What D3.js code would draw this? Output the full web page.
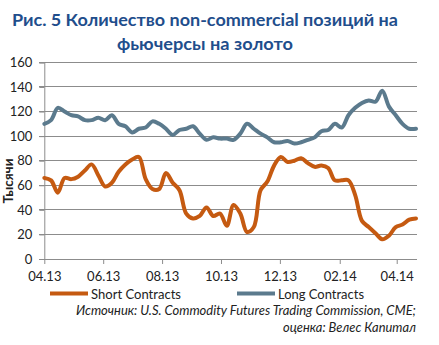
<!DOCTYPE html>
<html><head><meta charset="utf-8">
<script src="https://cdn.jsdelivr.net/npm/d3@7"></script>
<style>
html,body{margin:0;padding:0;background:#fff;}
svg{display:block;font-family:Lato,"Open Sans",sans-serif;}
</style></head>
<body>
<svg id="chart" width="439" height="345"></svg>
<script>
// ---- data (weekly, starting 2013-04-01) ----
const startDate = "2013-04-01";
const shortContracts = [66,64,54,66,65,67,72,77,68,59,62,71,77,81,83,65,57,57,70,62,56,37,33,35,42,35,37,27,44,37,22,26,56,63,76,83,79,80,82,78,75,76,74,64,64,64,52,31,26,21,16,19,26,28,32,33];
const longContracts  = [110,113,123,120,117,116,113,113,115,113,117,110,108,103,106,107,112,110,106,101,105,106,108,102,97,99,98,98,97,102,110,106,102,99,95,95,96,94,95,97,99,104,105,110,107,117,123,127,129,128,137,124,117,110,106,106];
const xTickLabels = ["04.13","06.13","08.13","10.13","12.13","02.14","04.14"];
const xTickDates  = ["2013-04-01","2013-06-01","2013-08-01","2013-10-01","2013-12-01","2014-02-01","2014-04-01"];
const yTicks = [0,20,40,60,80,100,120,140,160];
const seriesNames = ["Short Contracts","Long Contracts"];
const titleLines = ["Рис. 5 Количество non-commercial позиций на","фьючерсы на золото"];
const yLabel = "Тысячи";
const sourceLines = ["Источник: U.S. Commodity Futures Trading Commission, CME;","оценка: Велес Капитал"];

(function(){
const parse = d3.utcParse("%Y-%m-%d");
const t0 = parse(startDate);
const dates = shortContracts.map((_, i) => d3.utcDay.offset(t0, 7 * i));

const svg = d3.select("#chart");
const pL = 44.3, pR = 416.5, pT = 62.4, pB = 259;
const colors = ["#C55A11", "#5B7A8D"];

const x = d3.scaleUtc().domain([t0, dates[dates.length - 1]]).range([pL, pL + (dates[dates.length-1]-t0)/864e5*0.9655]);
const y = d3.scaleLinear().domain([0, 160]).range([pB, pT]);

// title
const titleW = [386, 176];
svg.append("g").selectAll("text").data(titleLines).join("text")
  .attr("x", (d, i) => 205 - titleW[i] / 2).attr("y", (d, i) => 26 + i * 24)
  .attr("textLength", (d, i) => titleW[i]).attr("lengthAdjust", "spacingAndGlyphs")
  .attr("font-size", 17.5).attr("font-weight", "bold").attr("fill", "#1F4E8C")
  .text(d => d);

// grid
svg.append("g").selectAll("line").data(yTicks).join("line")
  .attr("x1", pL - 5).attr("x2", pR).attr("y1", d => y(d)).attr("y2", d => y(d))
  .attr("stroke", "#8C8C8C").attr("stroke-width", 1).attr("shape-rendering", "crispEdges");

// y axis
const yAxis = svg.append("g").attr("transform", `translate(${pL},0)`)
  .call(d3.axisLeft(y).tickValues(yTicks).tickSize(5).tickPadding(7));
yAxis.select(".domain").attr("stroke", "#8C8C8C");
yAxis.selectAll(".tick line").attr("stroke", "#8C8C8C");
yAxis.selectAll("text").attr("font-size", 13).attr("font-family", "Lato").attr("fill", "#222");

// x axis
const xAxis = svg.append("g").attr("transform", `translate(0,${pB})`)
  .call(d3.axisBottom(x).tickValues(xTickDates.map(parse)).tickFormat((d, i) => xTickLabels[i]).tickSize(5).tickPadding(8));
xAxis.select(".domain").attr("stroke", "#8C8C8C").attr("d", `M${pL},0.5H${pR}`);
xAxis.selectAll(".tick line").attr("stroke", "#8C8C8C");
xAxis.selectAll("text").attr("font-size", 13).attr("font-family", "Lato").attr("fill", "#222");

// y label
svg.append("text").attr("transform", "translate(13,181) rotate(-90)")
  .attr("text-anchor", "middle").attr("font-size", 13.5).attr("font-weight", "bold").attr("fill", "#222")
  .text(yLabel);

// lines
const line = d3.line().x((d, i) => x(dates[i])).y(d => y(d)).curve(d3.curveCatmullRom.alpha(0.5));
[longContracts, shortContracts].forEach((s, k) => {
  svg.append("path").datum(s).attr("d", line).attr("fill", "none")
    .attr("stroke", k === 0 ? colors[1] : colors[0]).attr("stroke-width", 4)
    .attr("stroke-linejoin", "round").attr("stroke-linecap", "round");
});

// legend
const legend = [{x: 50, name: seriesNames[0], c: colors[0], w: 90}, {x: 237, name: seriesNames[1], c: colors[1], w: 86}];
const lg = svg.append("g").selectAll("g").data(legend).join("g").attr("transform", d => `translate(${d.x},293.5)`);
lg.append("line").attr("x1", 0).attr("x2", 38).attr("stroke", d => d.c).attr("stroke-width", 4);
lg.append("text").attr("x", 41).attr("y", 5).attr("font-size", 14).attr("fill", "#222")
  .attr("textLength", d => d.w).attr("lengthAdjust", "spacingAndGlyphs").text(d => d.name);

// source
const srcW = [340, 133];
svg.append("g").selectAll("text").data(sourceLines).join("text")
  .attr("x", (d, i) => 416 - srcW[i]).attr("y", (d, i) => 315 + i * 17)
  .attr("textLength", (d, i) => srcW[i]).attr("lengthAdjust", "spacingAndGlyphs")
  .attr("font-size", 13).attr("font-style", "italic").attr("fill", "#222")
  .text(d => d);
})();
</script>
</body></html>
